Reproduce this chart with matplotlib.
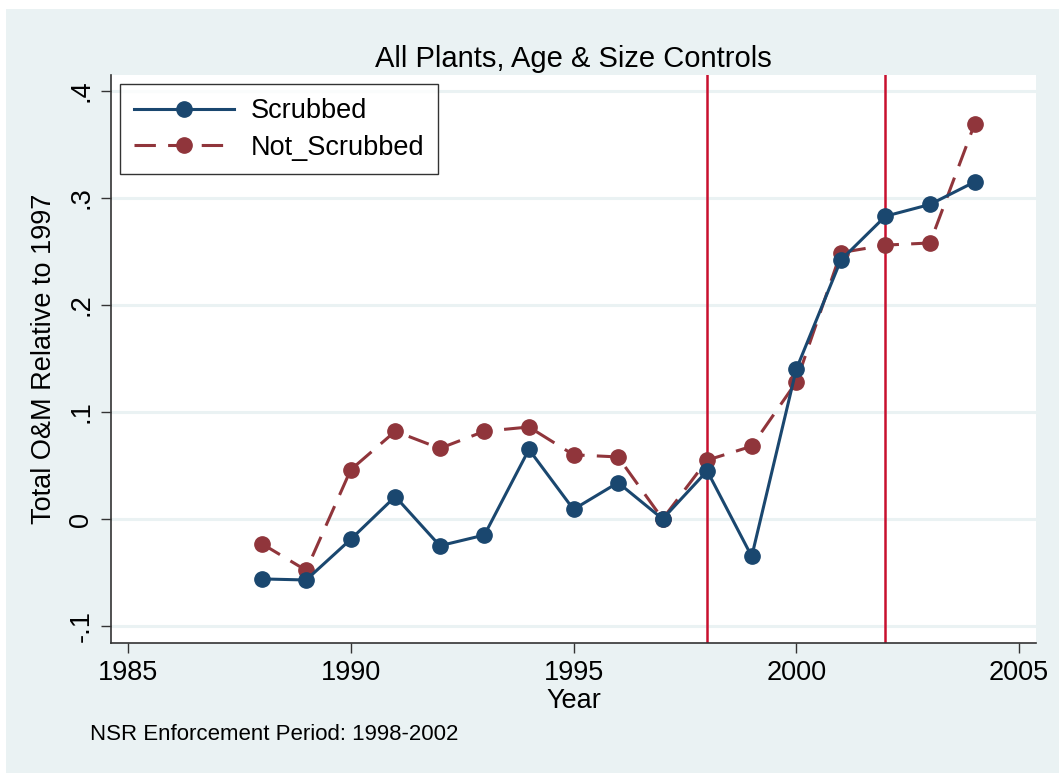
import matplotlib
matplotlib.use("Agg")
import matplotlib.pyplot as plt
import matplotlib.patches as mpatches

plt.rcParams['font.family'] = ['Liberation Sans', 'DejaVu Sans']

years = [1988, 1989, 1990, 1991, 1992, 1993, 1994, 1995, 1996,
         1997, 1998, 1999, 2000, 2001, 2002, 2003, 2004]
scrubbed = [-0.056, -0.057, -0.019, 0.021, -0.025, -0.015, 0.065, 0.009, 0.034,
            0.0, 0.045, -0.035, 0.140, 0.242, 0.283, 0.294, 0.315]
not_scrubbed = [-0.023, -0.048, 0.046, 0.082, 0.066, 0.082, 0.086, 0.060, 0.058,
                0.0, 0.055, 0.068, 0.128, 0.249, 0.256, 0.258, 0.369]
vlines = [1998, 2002]
xticks = [1985, 1990, 1995, 2000, 2005]
yticks = [-0.1, 0, 0.1, 0.2, 0.3, 0.4]
ytick_labels = ['-.1', '0', '.1', '.2', '.3', '.4']

bg = '#EAF2F3'
navy = '#1A476F'
maroon = '#90353B'

fig = plt.figure(figsize=(10.59, 7.73), dpi=100)
fig.patch.set_facecolor('white')
# grey panel below the white strip at the top
fig.add_artist(mpatches.Rectangle((6/1059, 0), 1, 1 - 9/773, transform=fig.transFigure,
                                  facecolor=bg, edgecolor='none', zorder=-10))

ax = fig.add_axes([111/1059, 1 - 643/773, 925/1059, 568/773])
ax.set_facecolor('white')

for y in yticks:
    ax.axhline(y, color=bg, lw=2.2, zorder=1)
for x in vlines:
    ax.axvline(x, color='#C8102E', lw=1.8, zorder=2)

ax.plot(years, scrubbed, color=navy, lw=2.2, marker='o', ms=11,
        label='Scrubbed', zorder=4)
ax.plot(years, not_scrubbed, color=maroon, lw=2.2, marker='o', ms=11,
        dashes=(7, 4), label='Not_Scrubbed', zorder=3)

ax.set_xlim(1984.62, 2005.38)
ax.set_ylim(-0.1159, 0.415)
ax.set_xticks(xticks)
ax.set_yticks(yticks)
ax.set_yticklabels(ytick_labels, rotation=90, va='center')
ax.tick_params(labelsize=19.5, length=7, width=1, color='#333333', pad=5)
for s in ['top', 'right']:
    ax.spines[s].set_visible(False)
for s in ['left', 'bottom']:
    ax.spines[s].set_color('#333333')
    ax.spines[s].set_linewidth(1.2)

ax.set_xlabel('Year', fontsize=19.5, labelpad=2)
ax.set_ylabel('Total O&M Relative to 1997', fontsize=19.5, labelpad=8)
ax.set_title('All Plants, Age & Size Controls', fontsize=21, pad=6)

leg = ax.legend(loc='upper left', fontsize=19.5, frameon=True, fancybox=False,
                edgecolor='black', borderaxespad=0.35, handlelength=3.7,
                handletextpad=0.6, labelspacing=0.4, borderpad=0.5)
leg.get_frame().set_linewidth(1.0)

fig.text(90/1059, 1 - 734/773, 'NSR Enforcement Period: 1998-2002',
         fontsize=16, va='center', ha='left')

fig.savefig('out.png', dpi=100, facecolor=fig.get_facecolor())
